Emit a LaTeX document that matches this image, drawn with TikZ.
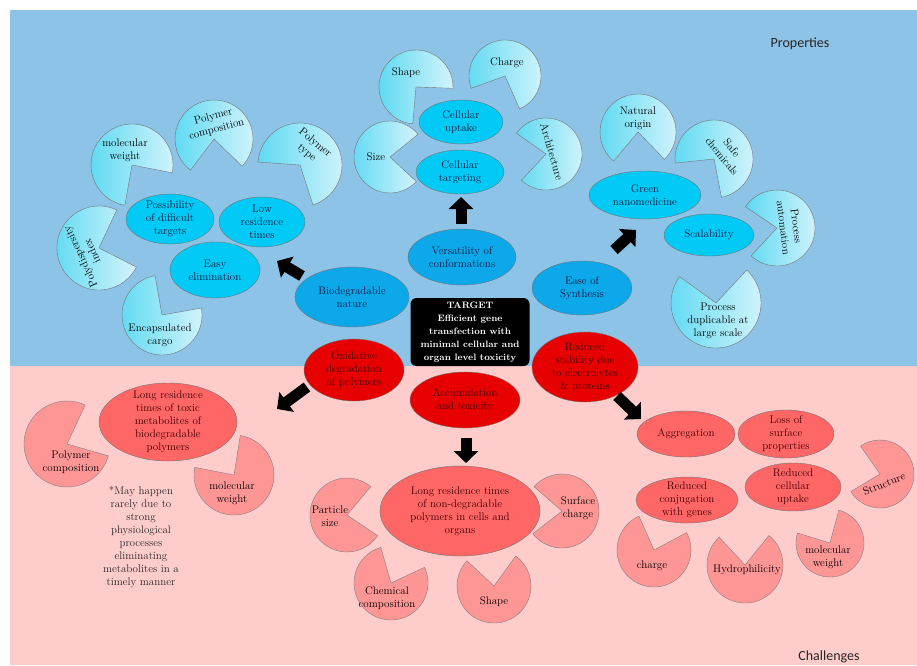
\documentclass[tikz,border=0pt]{standalone}
\usepackage{fontspec}
\newfontfamily\calib{Carlito}
\usetikzlibrary{shapes.geometric,arrows.meta}
\definecolor{bgblue}{RGB}{142,195,232}
\definecolor{bgpink}{RGB}{255,204,204}
\definecolor{eB}{RGB}{12,168,234}
\definecolor{eL}{RGB}{0,202,245}
\definecolor{eR}{RGB}{230,0,0}
\definecolor{eP}{RGB}{255,102,102}
\definecolor{pacL}{RGB}{95,218,242}
\definecolor{pacR}{RGB}{212,244,253}
\definecolor{pacP}{RGB}{255,150,150}
\definecolor{tblue}{RGB}{10,22,60}
\definecolor{tred}{RGB}{60,0,0}
\newcommand\fsn{\fontsize{11}{13}\selectfont}
\newcommand\pac[7]{%
  \path[#7] (#2pt,-#3pt) -- ++(#6:#4pt) arc[start angle=#6, end angle={#5+360}, radius=#4pt] -- cycle;
  \coordinate (#1) at (#2pt,-#3pt);}
\newcommand\elli[8]{%
  \node[#1, minimum width=#6pt, minimum height=#7pt] (#3) at (#4pt,-#5pt) {};
  \node[#2] (#3-t) at (#3) {#8};}
\tikzset{
  ellbase/.style={ellipse, draw=black!55, line width=0.4pt, inner sep=0pt},
  ellB/.style={ellbase, fill=eB},
  ellL/.style={ellbase, fill=eL},
  ellR/.style={ellbase, fill=eR},
  ellP/.style={ellbase, fill=eP},
  txt/.style={align=center, font=\fsn, inner sep=0pt},
  tB/.style={txt, text=tblue},
  tR/.style={txt, text=tred},
  tK/.style={txt, text=black},
  pacB/.style={draw=black!55, line width=0.4pt, left color=pacL, right color=pacR},
  pacQ/.style={draw=black!50, line width=0.4pt, fill=pacP},
  bigarrow/.style={black, line width=11pt, -{Triangle[width=24pt,length=12pt]}},
  corner/.style={font=\calib\fontsize{14}{16}\selectfont, text=black!85, inner sep=0pt}
}
\begin{document}
\begin{tikzpicture}[x=1pt,y=1pt]
\useasboundingbox (0,0) rectangle (917,-665);
% backgrounds
\fill[white] (0,0) rectangle (917,-665);
\fill[bgblue] (10,-10) rectangle (917,-366);
\fill[bgpink] (10,-366) rectangle (917,-665);
\node[corner] (props) at (800,-44) {Properties};
\node[corner] (chall) at (829,-657) {Challenges};

% ---------- top pac-men ----------
\pac{pmw}{132}{165}{41}{260}{349}{pacB}
\node[tK] (pmw-t) at (125,-150) {molecular\\weight};
\pac{ppc}{214}{139}{39}{233}{316}{pacB}
\node[tK, rotate=15] (ppc-t) at (215,-123) {Polymer\\composition};
\pac{ppt}{300}{165}{42}{176}{288}{pacB}
\node[tK, rotate=-40] (ppt-t) at (311,-148) {Polymer\\type};
\pac{ppdi}{99}{248}{42}{-27}{65}{pacB}
\node[tK, rotate=115] (ppdi-t) at (86,-254) {Polydispersity\\index};
\pac{pec}{162}{315}{40}{10}{100}{pacB}
\node[tK] (pec-t) at (160,-335) {Encapsulated\\cargo};
\pac{pshape}{416}{87}{37}{265}{358}{pacB}
\node[tK] (pshape-t) at (406,-73) {Shape};
\pac{pcharge}{505}{76}{36}{200}{294}{pacB}
\node[tK] (pcharge-t) at (507,-63) {Charge};
\pac{psize}{390}{157}{36}{-43}{39}{pacB}
\node[tK] (psize-t) at (376,-157) {Size};
\pac{parch}{546}{154}{36}{145}{227}{pacB}
\node[tK, rotate=-74] (parch-t) at (552,-152) {Architecture};
\pac{pnat}{638}{132}{38}{230}{314}{pacB}
\node[tK] (pnat-t) at (638,-118) {Natural\\origin};
\pac{psafe}{714}{159}{39}{186}{281}{pacB}
\node[tK, rotate=-50] (psafe-t) at (727,-152) {Safe\\chemicals};
\pac{pauto}{777}{228}{38}{146}{227}{pacB}
\node[tK, rotate=-83] (pauto-t) at (790,-227) {Process\\automation};
\pac{pdup}{716}{303}{45}{47}{144}{pacB}
\node[tK] (pdup-t) at (718,-321) {Process\\duplicable at\\large scale};

% ---------- bottom pac-men ----------
\pac{qpc}{67}{444}{43}{-16}{65}{pacQ}
\node[tK] (qpc-t) at (71,-462) {Polymer\\composition};
\pac{qmw}{234}{475}{40}{81}{169}{pacQ}
\node[tK] (qmw-t) at (232,-493) {molecular\\weight};
\pac{qps}{347}{515}{37}{-34}{50}{pacQ}
\node[tK] (qps-t) at (330,-516) {Particle\\size};
\pac{qsc}{562}{511}{37}{139}{218}{pacQ}
\node[tK] (qsc-t) at (578,-508) {Surface\\charge};
\pac{qcc}{391}{583}{37}{25}{106}{pacQ}
\node[tK] (qcc-t) at (387,-598) {Chemical\\composition};
\pac{qshape}{494}{586}{37}{54}{137}{pacQ}
\node[tK] (qshape-t) at (494,-602) {Shape};
\pac{qstruct}{880}{474}{34}{125}{211}{pacQ}
\node[tK, rotate=22] (qstruct-t) at (884,-484) {Structure};
\pac{qcharge}{654}{550}{37}{28}{114}{pacQ}
\node[tK] (qcharge-t) at (652,-566) {charge};
\pac{qhyd}{745}{565}{38}{51}{133}{pacQ}
\node[tK] (qhyd-t) at (747,-570) {Hydrophilicity};
\pac{qmw2}{830}{543}{34}{75}{163}{pacQ}
\node[tK] (qmw2-t) at (828,-557) {molecular\\weight};

% ---------- blue ellipses ----------
\elli{ellL}{tB}{poss}{170}{219}{88}{50}{Possibility\\of difficult\\targets}
\elli{ellL}{tB}{low}{262}{222}{86}{50}{Low\\residence\\times}
\elli{ellL}{tB}{easy}{215}{270}{90}{56}{Easy\\elimination}
\elli{ellB}{tB}{bio}{352}{297}{114}{60}{Biodegradable\\nature}
\elli{ellL}{tB}{upt}{461}{122}{84}{44}{Cellular\\uptake}
\elli{ellL}{tB}{targ}{460}{172}{88}{44}{Cellular\\targeting}
\elli{ellB}{tB}{vers}{462}{257}{108}{56}{Versatility of\\conformations}
\elli{ellL}{tB}{green}{645}{195}{112}{48}{Green\\nanomedicine}
\elli{ellL}{tB}{scal}{709}{235}{90}{42}{Scalability}
\elli{ellB}{tB}{ease}{582}{288}{100}{54}{Ease of\\Synthesis}

% ---------- target ----------
\node[fill=black, rounded corners=6pt, minimum width=119pt, minimum height=68pt,
      text=white, font=\bfseries\fontsize{9.3}{13}\selectfont, align=center, inner sep=0pt]
      (target) at (470,-332) {TARGET\\Efficient gene\\transfection with\\minimal cellular and\\organ level toxicity};

% ---------- red ellipses ----------
\elli{ellR}{tR}{oxi}{354}{370}{100}{62}{Oxidative\\degradation\\of polymers}
\elli{ellR}{tR}{acc}{465}{400}{110}{56}{Accumulation\\and toxicity}
\elli{ellR}{tR}{red}{585}{367}{106}{70}{Reduced\\stability due\\to electrolytes\\\& proteins}
\elli{ellP}{tR}{ltox}{168}{422}{138}{78}{Long residence\\times of toxic\\metabolites of\\biodegradable\\polymers}
\elli{ellP}{tR}{lnon}{460}{511}{160}{90}{Long residence times\\of non-degradable\\polymers in cells and\\organs}
\elli{ellP}{tR}{agg}{686}{434}{98}{46}{Aggregation}
\elli{ellP}{tR}{loss}{786}{434}{96}{48}{Loss of\\surface\\properties}
\elli{ellP}{tR}{rcu}{793}{487}{96}{48}{Reduced\\cellular\\uptake}
\elli{ellP}{tR}{rcg}{687}{500}{102}{46}{Reduced\\conjugation\\with genes}

% footnote
\node[tK, text=black!85] (note) at (141,-537) {*May happen\\rarely due to\\strong\\physiological\\processes\\eliminating\\metabolites in a\\timely manner};

% ---------- arrows ----------
\coordinate (a1s) at (302,-276); \coordinate (a1e) at (277,-261);
\coordinate (a2s) at (461,-224); \coordinate (a2e) at (461,-197);
\coordinate (a3s) at (614,-250); \coordinate (a3e) at (636,-230);
\coordinate (a4s) at (307,-387); \coordinate (a4e) at (277,-409);
\coordinate (a5s) at (466,-438); \coordinate (a5e) at (466,-463);
\coordinate (a6s) at (617,-396); \coordinate (a6e) at (641,-419);
\draw[bigarrow] (a1s) -- (a1e);
\draw[bigarrow] (a2s) -- (a2e);
\draw[bigarrow] (a3s) -- (a3e);
\draw[bigarrow] (a4s) -- (a4e);
\draw[bigarrow] (a5s) -- (a5e);
\draw[bigarrow] (a6s) -- (a6e);
\end{tikzpicture}
\end{document}
